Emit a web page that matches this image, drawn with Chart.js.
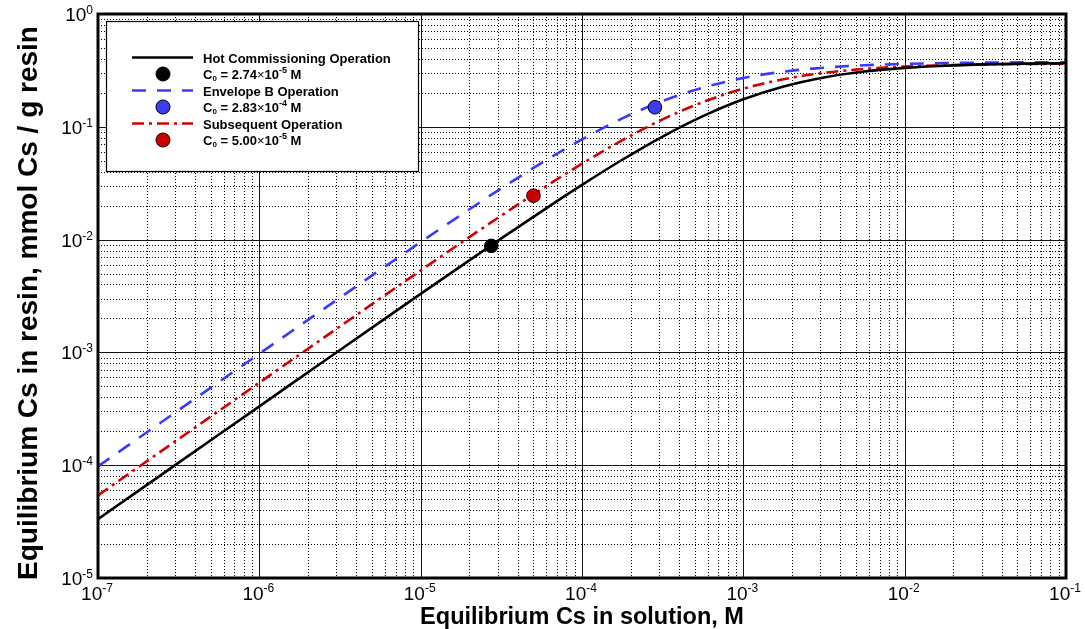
<!DOCTYPE html>
<html><head><meta charset="utf-8">
<script src="https://cdn.jsdelivr.net/npm/chart.js@4"></script>
<style>html,body{margin:0;padding:0;background:#fff}#wrap{width:1085px;height:629px;position:relative}</style>
</head><body><div id="wrap"><canvas id="c" width="1085" height="629"></canvas></div>
<script>
// ---- data ----
const xValues = [1e-7,1.778e-7,3.162e-7,5.623e-7,1e-6,1.778e-6,3.162e-6,5.623e-6,1e-5,1.778e-5,3.162e-5,5.623e-5,1e-4,1.778e-4,3.162e-4,5.623e-4,1e-3,1.778e-3,3.162e-3,5.623e-3,1e-2,1.778e-2,3.162e-2,5.623e-2,1e-1];
const hotCommissioning = [3.33e-5,5.92e-5,1.053e-4,1.872e-4,3.327e-4,5.91e-4,1.050e-3,1.863e-3,3.30e-3,5.827e-3,0.01024,0.01782,0.03055,0.05103,0.08197,0.1243,0.1753,0.2277,0.2738,0.3089,0.333,0.3482,0.3574,0.3628,0.3659];
const envelopeB = [9.75e-5,1.733e-4,3.081e-4,5.475e-4,9.725e-4,1.726e-3,3.058e-3,5.404e-3,9.503e-3,0.01657,0.02849,0.04783,0.07738,0.1186,0.1692,0.2227,0.2708,0.3083,0.3343,0.3510,0.3611,0.3671,0.3705,0.3725,0.3736];
const subsequent = [5.40e-5,9.61e-5,1.708e-4,3.035e-4,5.394e-4,9.582e-4,1.700e-3,3.012e-3,5.323e-3,9.361e-3,0.01632,0.02804,0.04706,0.07605,0.1164,0.1658,0.2178,0.2645,0.3007,0.3258,0.3419,0.3516,0.3574,0.3607,0.3626];
const pointX = [2.74e-5, 2.83e-4, 5.00e-5];
const pointY = [0.0088, 0.149, 0.0245];
const seriesNames = ['Hot Commissioning Operation', 'Envelope B Operation', 'Subsequent Operation'];
const c0Mantissa = ['2.74', '2.83', '5.00'];
const c0Exponent = ['-5', '-4', '-5'];
const xTickExps = [-7, -6, -5, -4, -3, -2, -1];
const yTickExps = [-5, -4, -3, -2, -1, 0];
const xTitle = 'Equilibrium Cs in solution, M';
const yTitle = 'Equilibrium Cs in resin, mmol Cs / g resin';

// ---- styles ----
const FONT = '"Liberation Sans", Arial, Helvetica, sans-serif';
const lineColors = ['#000000', '#3a3aff', '#d40000'];
const dotColors = ['#000000', '#3c3cf2', '#cc0000'];
const dashes = [[], [14, 11], [12, 5, 3, 5]];

function toXY(xs, ys) { return xs.map((v, i) => ({x: v, y: ys[i]})); }
const curves = [hotCommissioning, envelopeB, subsequent];

const datasets = [];
curves.forEach((ys, i) => {
  datasets.push({
    label: seriesNames[i], data: toXY(xValues, ys), borderColor: lineColors[i],
    borderWidth: 2.6, borderDash: dashes[i], pointRadius: 0, fill: false,
    cubicInterpolationMode: 'monotone', order: 2
  });
});
pointX.forEach((px, i) => {
  datasets.push({
    label: 'C0 ' + c0Mantissa[i], data: [{x: px, y: pointY[i]}], showLine: false,
    pointRadius: 6.8, pointBackgroundColor: dotColors[i], pointBorderColor: '#000',
    pointBorderWidth: 1, order: 1
  });
});

function richText(ctx, parts, x, y, align) {
  let w = 0;
  parts.forEach(p => { ctx.font = p.font; p.w = ctx.measureText(p.t).width; w += p.w; });
  let cx = align === 'right' ? x - w : align === 'center' ? x - w / 2 : x;
  parts.forEach(p => { ctx.font = p.font; ctx.textAlign = 'left'; ctx.textBaseline = 'alphabetic'; ctx.fillText(p.t, cx, y + (p.dy || 0)); cx += p.w; });
}

const gridPlugin = {
  id: 'gridPlugin',
  beforeDatasetsDraw(chart) {
    const {ctx, chartArea: a, scales: {x, y}} = chart;
    ctx.save();
    ctx.strokeStyle = '#000'; ctx.lineWidth = 1;
    ctx.setLineDash([1, 2]);
    for (let e = xTickExps[0]; e < xTickExps[xTickExps.length - 1]; e++) {
      for (let m = 2; m <= 9; m++) {
        const px = Math.round(x.getPixelForValue(m * Math.pow(10, e))) + 0.5;
        ctx.beginPath(); ctx.moveTo(px, a.top); ctx.lineTo(px, a.bottom); ctx.stroke();
      }
    }
    for (let e = yTickExps[0]; e < yTickExps[yTickExps.length - 1]; e++) {
      for (let m = 2; m <= 9; m++) {
        const py = Math.round(y.getPixelForValue(m * Math.pow(10, e))) + 0.5;
        ctx.beginPath(); ctx.moveTo(a.left, py); ctx.lineTo(a.right, py); ctx.stroke();
      }
    }
    ctx.setLineDash([]);
    ctx.strokeStyle = '#111';
    xTickExps.forEach(e => {
      const px = Math.round(x.getPixelForValue(Math.pow(10, e))) + 0.5;
      ctx.beginPath(); ctx.moveTo(px, a.top); ctx.lineTo(px, a.bottom); ctx.stroke();
    });
    yTickExps.forEach(e => {
      const py = Math.round(y.getPixelForValue(Math.pow(10, e))) + 0.5;
      ctx.beginPath(); ctx.moveTo(a.left, py); ctx.lineTo(a.right, py); ctx.stroke();
    });
    // legend box (covers grid)
    ctx.fillStyle = '#fff';
    ctx.fillRect(106, 21, 313, 151);
    ctx.lineWidth = 1.2; ctx.strokeStyle = '#000';
    ctx.strokeRect(106.5, 21.5, 312, 150);
    ctx.restore();
  },
  afterDatasetsDraw(chart) {
    const {ctx, chartArea: a, scales: {x, y}} = chart;
    ctx.save();
    ctx.lineWidth = 3; ctx.strokeStyle = '#000';
    ctx.strokeRect(a.left, a.top, a.right - a.left, a.bottom - a.top);
    ctx.fillStyle = '#000';
    const big = '19px ' + FONT, sup = '12px ' + FONT;
    xTickExps.forEach(e => {
      const px = x.getPixelForValue(Math.pow(10, e));
      richText(ctx, [{t: '10', font: big}, {t: String(e), font: sup, dy: -8}], px - 1, a.bottom + 22, 'center');
    });
    yTickExps.forEach(e => {
      const py = y.getPixelForValue(Math.pow(10, e));
      richText(ctx, [{t: '10', font: big}, {t: String(e), font: sup, dy: -7}], a.left - 5, py + 7, 'right');
    });
    // titles
    ctx.font = 'bold 23.5px ' + FONT; ctx.textAlign = 'center'; ctx.textBaseline = 'alphabetic';
    ctx.fillText(xTitle, (a.left + a.right) / 2, 624);
    ctx.save();
    ctx.translate(37, (a.top + a.bottom) / 2 + 7);
    ctx.rotate(-Math.PI / 2);
    ctx.font = 'bold 28px ' + FONT;
    ctx.fillText(yTitle, 0, 0);
    ctx.restore();
    // legend entries
    const lb = 'bold 13px ' + FONT, ls = 'bold 8px ' + FONT, le = 'bold 9px ' + FONT;
    const rowY = [57.5, 74, 90.5, 107, 123.5, 140];
    for (let i = 0; i < 3; i++) {
      const yl = rowY[2 * i], yd = rowY[2 * i + 1];
      ctx.save();
      ctx.strokeStyle = lineColors[i]; ctx.lineWidth = 2.6; ctx.setLineDash(dashes[i]);
      ctx.beginPath(); ctx.moveTo(132, yl); ctx.lineTo(193, yl); ctx.stroke();
      ctx.restore();
      ctx.beginPath(); ctx.arc(163, yd, 7, 0, Math.PI * 2);
      ctx.fillStyle = dotColors[i]; ctx.fill(); ctx.lineWidth = 1; ctx.strokeStyle = '#000'; ctx.stroke();
      ctx.fillStyle = '#000';
      richText(ctx, [{t: seriesNames[i], font: lb}], 203, yl + 5, 'left');
      richText(ctx, [
        {t: 'C', font: lb}, {t: '0', font: ls, dy: 2}, {t: ' = ' + c0Mantissa[i], font: lb},
        {t: '\u00D7', font: '13px ' + FONT}, {t: '10', font: lb}, {t: c0Exponent[i], font: le, dy: -6},
        {t: ' M', font: lb}
      ], 203, yd + 5, 'left');
    }
    ctx.restore();
  }
};

new Chart(document.getElementById('c'), {
  type: 'line',
  data: {datasets},
  options: {
    responsive: false, animation: false, devicePixelRatio: 1,
    layout: {padding: {left: 98, top: 14, right: 19, bottom: 51}},
    plugins: {legend: {display: false}, tooltip: {enabled: false}},
    scales: {
      x: {type: 'logarithmic', min: 1e-7, max: 1e-1, display: false},
      y: {type: 'logarithmic', min: 1e-5, max: 1, display: false}
    }
  },
  plugins: [gridPlugin]
});
</script></body></html>
